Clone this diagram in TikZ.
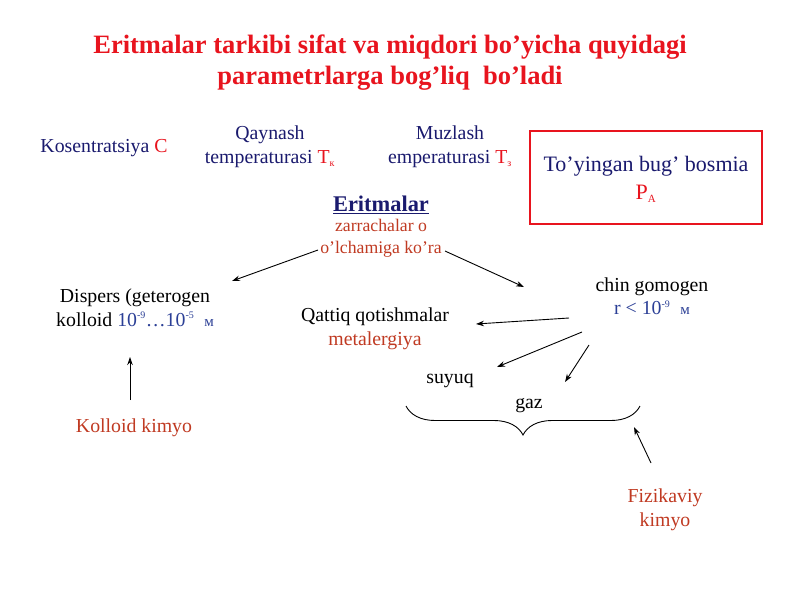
\documentclass[tikz,border=0pt]{standalone}
\usepackage{fontspec}
\setmainfont{Liberation Serif}
\usetikzlibrary{decorations.pathreplacing,arrows.meta}
\definecolor{navy}{HTML}{1A1A6E}
\definecolor{tred}{HTML}{E8141E}
\definecolor{brick}{HTML}{C03A22}
\definecolor{nblue}{HTML}{2B3F96}
\tikzset{
  txt/.style={inner sep=0pt,align=center,font=\fontsize{19.8}{23.5}\selectfont},
  arr/.style={-{Stealth[length=8pt,width=5.5pt]},line width=0.9pt,black},
}
\newcommand{\supsm}[1]{\textsuperscript{\fontsize{10}{10}\selectfont #1}}
\begin{document}
\begin{tikzpicture}[x=1pt,y=-1pt]
\useasboundingbox (0,0) rectangle (800,600);
\fill[white] (0,0) rectangle (800,600);
% title
\node[txt,text=tred,font=\fontsize{26.5}{31}\selectfont\bfseries] (title) at (390,63)
  {Eritmalar tarkibi sifat va miqdori bo’yicha quyidagi\\parametrlarga bog’liq\ \ bo’ladi};
% top row
\node[txt,text=navy] (kos) at (104,148) {Kosentratsiya \textcolor{tred}{C}};
\node[txt,text=navy] (qay) at (270,146.5) {Qaynash\\temperaturasi \textcolor{tred}{T\textsubscript{\fontsize{10}{10}\selectfont к}}};
\node[txt,text=navy] (muz) at (450,146.5) {Muzlash\\emperaturasi \textcolor{tred}{T\textsubscript{\fontsize{10}{10}\selectfont з}}};
\node[draw=tred,line width=1.2pt,minimum width=232pt,minimum height=93pt,inner sep=0pt] (box) at (646,177.5) {};
\node[txt,text=navy,font=\fontsize{22}{28}\selectfont] (boxt) at (646,179) {To’yingan bug’ bosmia\\\textcolor{tred}{P\textsubscript{\fontsize{11}{11}\selectfont A}}};
% centre
\node[txt,text=navy,font=\fontsize{22.4}{22}\selectfont\bfseries] (erit) at (381,205) {\underline{Eritmalar}};
\node[txt,text=brick,font=\fontsize{17.7}{22}\selectfont] (zarr) at (381,238) {zarrachalar o\\o’lchamiga ko’ra};
% left
\node[txt,text=black] (disp) at (135,308) {Dispers (geterogen\\kolloid \textcolor{nblue}{10\supsm{-9}…10\supsm{-5}}\ \ \textcolor{nblue}{\fontsize{15}{15}\selectfont м}};
\node[txt,text=brick] (koll) at (134,428) {Kolloid kimyo};
% right
\node[txt,text=black] (chin) at (652,296) {chin gomogen\\\textcolor{nblue}{r < 10\supsm{-9}\ \ {\fontsize{15}{15}\selectfont м}}};
\node[txt,text=black] (qat) at (375,329) {Qattiq qotishmalar\\\textcolor{brick}{metalergiya}};
\node[txt,text=black] (suy) at (450,381) {suyuq};
\node[txt,text=black] (gaz) at (529,406) {gaz};
\node[txt,text=brick] (fiz) at (665,510) {Fizikaviy\\kimyo};
% connector anchors
\coordinate (l1) at (318,250); \coordinate (l2) at (232,281);
\coordinate (r1) at (445,251); \coordinate (r2) at (524,287);
\coordinate (c1) at (569,318); \coordinate (c2) at (476,324);
\coordinate (d1) at (582,332); \coordinate (d2) at (497,367);
\coordinate (e1) at (589,345); \coordinate (e2) at (565,382);
\coordinate (k1) at (130,400); \coordinate (k2) at (130,357);
\coordinate (f1) at (651,463); \coordinate (f2) at (634,427);
\coordinate (bl) at (406,406); \coordinate (br) at (640,406);
\draw[arr] (l1) -- (l2);
\draw[arr] (r1) -- (r2);
\draw[arr] (c1) -- (c2);
\draw[arr] (d1) -- (d2);
\draw[arr] (e1) -- (e2);
\draw[arr] (k1) -- (k2);
\draw[arr] (f1) -- (f2);
\draw[line width=0.9pt,decorate,decoration={brace,amplitude=29pt,mirror}] (bl) -- (br);
\end{tikzpicture}
\end{document}
